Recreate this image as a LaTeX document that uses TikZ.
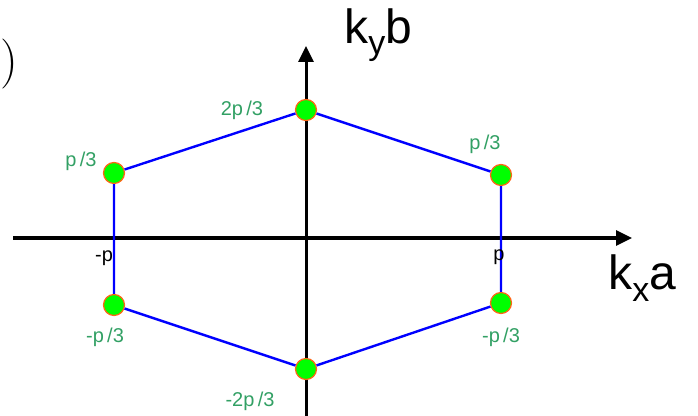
\documentclass[tikz,border=0pt]{standalone}
\usepackage{fontspec}
\setsansfont{Liberation Sans}
\usepackage{tikz}
\usetikzlibrary{arrows.meta}
\definecolor{vert}{RGB}{0,255,0}
\definecolor{rim}{RGB}{255,100,20}
\definecolor{lab}{RGB}{50,160,100}
\definecolor{edge}{RGB}{0,0,255}

\begin{document}
\begin{tikzpicture}[x=0.5pt,y=-0.5pt,>={Triangle[length=8pt,width=7.5pt]},
  vtx/.style={circle,fill=vert,draw=rim,line width=0.6pt,minimum size=10.5pt,inner sep=0pt},
  glab/.style={text=lab,inner sep=0pt,font=\sffamily\fontsize{10}{12}\selectfont},
  big/.style={anchor=base west,inner sep=0pt,font=\sffamily\fontsize{24}{27}\selectfont}]
  \useasboundingbox (0,0) rectangle (698,416);
  \coordinate (xl) at (13,238); \coordinate (xr) at (632,238);
  \coordinate (yb) at (306,420); \coordinate (yt) at (306,46);
  \draw[->,line width=1.6pt] (xl) -- (xr);
  \draw[->,line width=1.5pt] (yb) -- (yt);
  \foreach \n/\x/\y in {t/306/110,ur/501/175,lr/501/303,b/306/369,ll/114/305,ul/114/173}
    \node[vtx] (\n) at (\x,\y) {};
  \draw[edge,line width=1.2pt] (t) -- (ur) -- (lr) -- (b) -- (ll) -- (ul) -- (t);
  \foreach \x/\y/\t [count=\i] in {242/110/{2p\,/3},81/161/{p\,/3},485/144/{p\,/3},105/337/{-p\,/3},501/337/{-p\,/3},250/401/{-2p\,/3}}
    \node[glab] (g\i) at (\x,\y) {\t};
  \node[glab,text=black] (mp) at (104,258) {-p};
  \node[glab,text=black] (pp) at (499,257) {p};
  \node[big] (ky) at (344,44) {k\raisebox{-5.5pt}{\fontsize{17}{18}\selectfont y}b};
  \node[big] (kx) at (608,290) {k\raisebox{-6pt}{\fontsize{17}{18}\selectfont x}a};
  \node[anchor=base east,inner sep=0pt,font=\fontsize{25}{30}\selectfont] (tag) at (19,77) {(a)};
\end{tikzpicture}
\end{document}
